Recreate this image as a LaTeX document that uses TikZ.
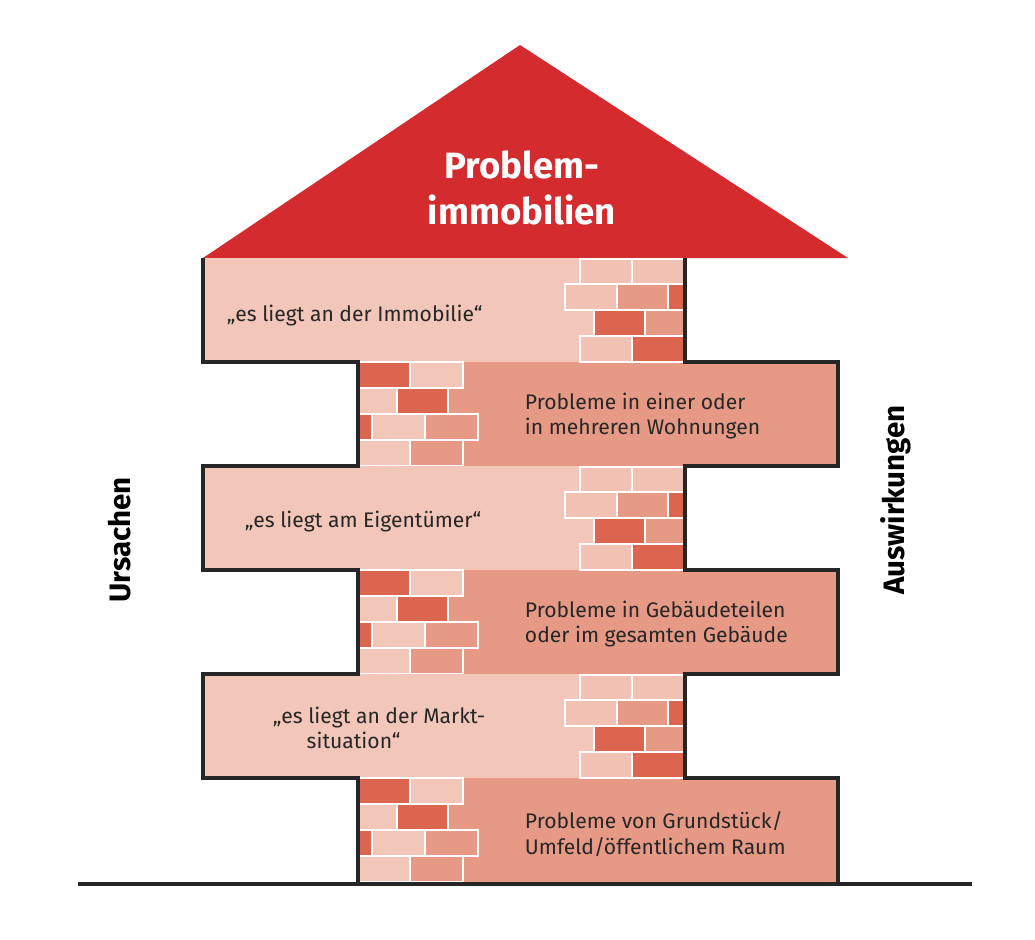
\documentclass[tikz,border=0pt]{standalone}
\usepackage{fontspec}
\setmainfont{Fira Sans}
\definecolor{roofred}{HTML}{D32B2E}
\definecolor{lightb}{HTML}{F2C6B8}
\definecolor{midb}{HTML}{E69A85}
\definecolor{darkb}{HTML}{DC6550}
\tikzset{
  brick/.style={draw=white,line width=1.2pt},
  txt/.style={font=\fontsize{15}{18}\selectfont,align=left,text=black!85},
  side/.style={font=\bfseries\fontsize{21}{24}\selectfont,rotate=90}
}
\begin{document}
\begin{tikzpicture}[x=0.025cm,y=-0.025cm]
\useasboundingbox (0,0) rectangle (1035,940);
% roof
\fill[roofred] (203,258) -- (520,45) -- (848,258) -- cycle;
\node[font=\bfseries\fontsize{26}{33}\selectfont,text=white,align=center] (title) at (522,188) {Problem-\\immobilien};
% blocks
\foreach \dy in {0,208,416}{
  \fill[lightb] (203,258+\dy) rectangle (685,362+\dy);
  \fill[midb] (358,362+\dy) rectangle (838,466+\dy);
  % bricks, left block
  \begin{scope}[shift={(0,\dy)}]
  \draw[brick,fill=lightb!90!midb] (580,259) rectangle (632,284);
  \draw[brick,fill=lightb!90!midb] (632,259) rectangle (685,284);
  \draw[brick,fill=lightb!90!midb] (565,284) rectangle (617,310);
  \draw[brick,fill=midb] (617,284) rectangle (668,310);
  \draw[brick,fill=darkb] (668,284) rectangle (685,310);
  \draw[brick,fill=darkb] (594,310) rectangle (645,336);
  \draw[brick,fill=midb] (645,310) rectangle (685,336);
  \draw[brick,fill=lightb!90!midb] (580,336) rectangle (632,362);
  \draw[brick,fill=darkb] (632,336) rectangle (685,362);
  % bricks, right block
  \draw[brick,fill=darkb] (358,362) rectangle (410,388);
  \draw[brick,fill=lightb] (410,362) rectangle (463,388);
  \draw[brick,fill=lightb] (358,388) rectangle (397,414);
  \draw[brick,fill=darkb] (397,388) rectangle (448,414);
  \draw[brick,fill=darkb] (358,414) rectangle (372,440);
  \draw[brick,fill=lightb] (372,414) rectangle (425,440);
  \draw[brick,fill=midb] (425,414) rectangle (478,440);
  \draw[brick,fill=lightb] (358,440) rectangle (410,466);
  \draw[brick,fill=midb] (410,440) rectangle (463,466);
  \end{scope}
}
% outline
\draw[line width=2.2pt,black!85,line join=miter]
  (203,258) -- (203,362) -- (358,362) -- (358,466) -- (203,466) -- (203,570)
  -- (358,570) -- (358,674) -- (203,674) -- (203,778) -- (358,778) -- (358,884);
\draw[line width=2.2pt,black!85,line join=miter]
  (685,258) -- (685,362) -- (838,362) -- (838,466) -- (685,466) -- (685,570)
  -- (838,570) -- (838,674) -- (685,674) -- (685,778) -- (838,778) -- (838,884);
\draw[line width=2.2pt,black!85] (78,884) -- (972,884);
% labels
\node[txt,anchor=west] (c1) at (222,316) {„es liegt an der Immobilie“};
\node[txt,anchor=west] (e1) at (520,416) {Probleme in einer oder\\in mehreren Wohnungen};
\node[txt,anchor=west] (c2) at (240,522) {„es liegt am Eigentümer“};
\node[txt,anchor=west] (e2) at (520,624) {Probleme in Gebäudeteilen\\oder im gesamten Gebäude};
\node[txt,anchor=west] (c3) at (268,728) {„es liegt an der Markt-\\\hspace*{1.6em}situation“};
\node[txt,anchor=west] (e3) at (520,834) {Probleme von Grundstück/\\Umfeld/öffentlichem Raum};
\node[side] (cause) at (120,540) {Ursachen};
\node[side] (effect) at (896,500) {Auswirkungen};
\end{tikzpicture}
\end{document}
